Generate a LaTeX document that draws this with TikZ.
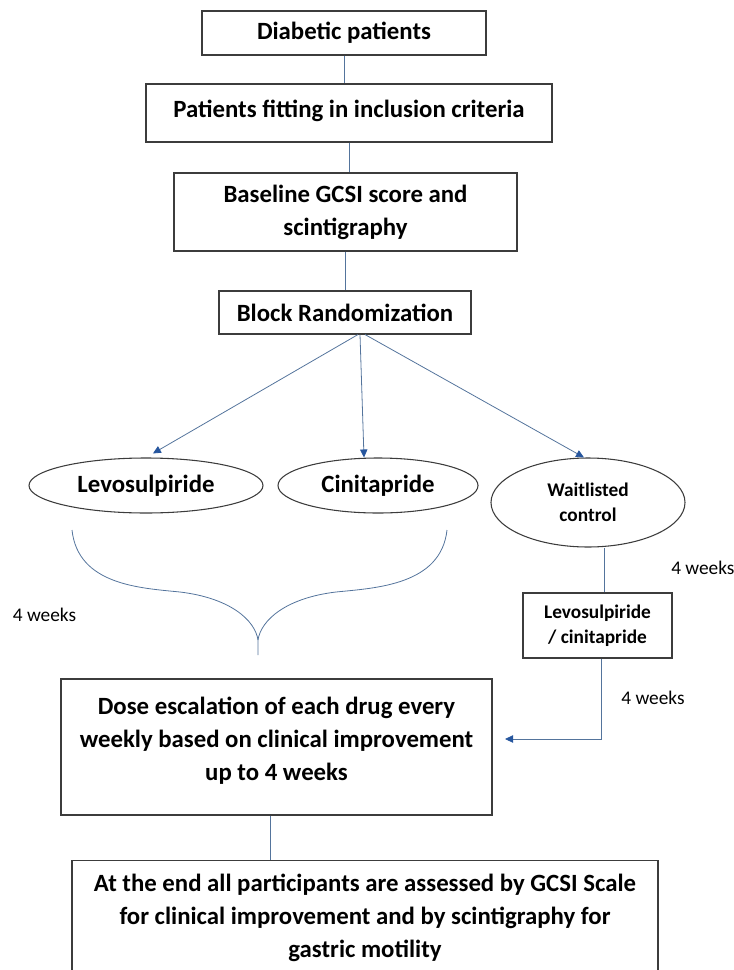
\documentclass[tikz,border=0pt]{standalone}
\usepackage{fontspec}
\setmainfont{Carlito}
\usetikzlibrary{arrows.meta,shapes.geometric}
\definecolor{linkblue}{RGB}{84,116,156}
\definecolor{tipblue}{RGB}{38,86,158}
\definecolor{boxgray}{RGB}{60,60,60}
\begin{document}
\begin{tikzpicture}[x=0.75pt,y=-0.75pt,
 font=\fontsize{18.6}{24.75}\selectfont\bfseries,
 box/.style={draw=boxgray,line width=0.8pt,align=center,inner sep=0pt},
 oval/.style={ellipse,draw=boxgray,line width=0.8pt,align=center,inner sep=0pt},
 small/.style={font=\fontsize{14.5}{18.75}\selectfont\bfseries},
 weeks/.style={font=\fontsize{14.5}{17}\selectfont,inner sep=0pt},
 link/.style={draw=linkblue,line width=0.6pt},
 arrow/.style={link,-{Triangle[length=6pt,width=5.5pt,color=tipblue]}}]
\useasboundingbox (0,0) rectangle (734,970);
\node[box,minimum width=213pt,minimum height=33pt] (diab) at (344,33) {Diabetic patients};
\node[box,minimum width=304.5pt,minimum height=43.5pt,text depth=7pt] (incl) at (349,113) {Patients fitting in inclusion criteria};
\node[box,minimum width=257.25pt,minimum height=58.5pt] (base) at (345.5,212) {Baseline GCSI score and\\scintigraphy};
\node[box,minimum width=189pt,minimum height=32.25pt] (rand) at (345,312.5) {Block Randomization};
\draw[link] (diab) -- (diab |- incl.north);
\draw[link] (incl) -- (incl |- base.north);
\draw[link] (base) -- (base |- rand.north);
\node[oval,minimum width=175.5pt,minimum height=41.25pt] (levo) at (146,485.5) {Levosulpiride};
\node[oval,minimum width=150pt,minimum height=41.25pt] (cini) at (378,485.5) {Cinitapride};
\node[oval,small,minimum width=145.5pt,minimum height=66.75pt] (wait) at (588,502.5) {Waitlisted\\control};
\draw[arrow,shorten >=6pt] ([xshift=9.75pt]rand.south) -- (levo.north);
\draw[arrow] ([xshift=11.25pt]rand.south) -- ([xshift=-10.5pt]cini.north);
\draw[arrow] ([xshift=15pt]rand.south) -- ([xshift=-3pt]wait.north);
\coordinate (bl) at (72,530);
\coordinate (br) at (447,530);
\coordinate (btip) at (258,655);
\draw[link] (bl) .. controls (78,585) and (140,588) .. (180,592) .. controls (230,598) and (255,620) .. (258,640) -- (btip);
\draw[link] (br) .. controls (441,585) and (376,588) .. (336,592) .. controls (286,598) and (261,620) .. (258,640);
\node[weeks] (wk1) at (44.5,615) {4 weeks};
\node[box,small,minimum width=111.75pt,minimum height=48.75pt] (lc) at (597.5,625.5) {Levosulpiride\\/ cinitapride};
\draw[link] ([xshift=4.9pt]lc.north) -- ([xshift=4.9pt]lc.north |- wait.south);
\node[weeks,anchor=west] (wk2) at (671,568) {4 weeks};
\node[weeks] (wk3) at (653,698) {4 weeks};
\node[box,minimum width=323.25pt,minimum height=102pt,text depth=13pt] (dose) at (276.5,747) {Dose escalation of each drug every\\weekly based on clinical improvement\\up to 4 weeks};
\coordinate (dosein) at (505,739);
\draw[arrow] ([xshift=2.6pt]lc.south) |- (dosein);
\node[box,anchor=north,minimum width=439.5pt,minimum height=85.5pt] (final) at (365,860) {At the end all participants are assessed by GCSI Scale\\for clinical improvement and by scintigraphy for\\gastric motility};
\draw[link] ([xshift=-4.9pt]dose.south) -- ([xshift=-4.9pt]dose.south |- final.north);
\end{tikzpicture}
\end{document}
